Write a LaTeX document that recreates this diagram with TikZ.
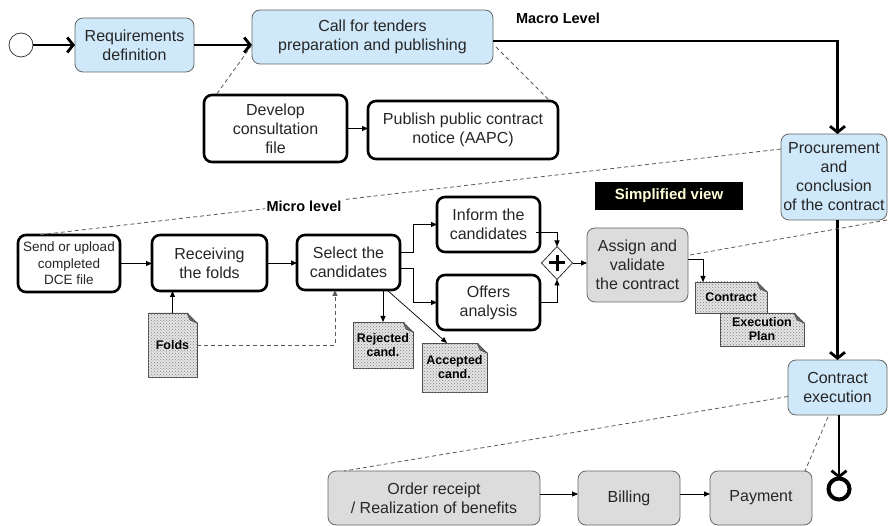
\documentclass[tikz,border=0pt]{standalone}
\usepackage{fontspec}
\setmainfont{Liberation Sans}
\usetikzlibrary{arrows.meta,calc,shapes.geometric,patterns}
\definecolor{blueF}{HTML}{CFE9FA}
\definecolor{grayF}{HTML}{DCDCDC}
\definecolor{creamT}{HTML}{FFFFD8}
\newcommand\docfold[1]{%
  \fill[white] ($(#1.north east)+(-10,-1)$) -- ($(#1.north east)+(1,-1)$) -- ($(#1.north east)+(1,10)$) -- cycle;
  \filldraw[draw=black!70, fill=black!60, line width=0.6pt, line join=round]
    ($(#1.north east)+(-10,0)$) -- ($(#1.north east)+(0,10)$) -- ($(#1.north east)+(-7,7)$) -- cycle;
}
\begin{document}
\begin{tikzpicture}[x=1pt,y=-1pt,
  every node/.style={font=\fontsize{16}{19}\selectfont, text=black!85, align=center, inner sep=0pt, outer sep=0pt},
  bluebox/.style={draw=black!60, line width=0.8pt, fill=blueF, rounded corners=8pt},
  graybox/.style={draw=black!60, line width=0.8pt, fill=grayF, rounded corners=8pt},
  taskbox/.style={draw=black, line width=2.6pt, fill=white, rounded corners=8pt},
  docbox/.style={draw=black!70, line width=0.6pt, fill=black!10,
    postaction={pattern=crosshatch dots, pattern color=black!50},
    font=\fontsize{12.5}{14}\selectfont\bfseries, text=black},
  flow/.style={line width=2.8pt, -{Straight Barb[length=6pt,width=15pt]}},
  msg/.style={line width=0.9pt, -{Triangle[length=6pt,width=5pt]}},
  assoc/.style={dash pattern=on 4pt off 3pt, draw=black!65, line width=0.8pt},
  lvl/.style={font=\fontsize{14.5}{17}\selectfont\bfseries, text=black},
]
\useasboundingbox (0,0) rectangle (888,526);

% ---------- macro level ----------
\node[circle, draw=black!75, line width=0.8pt, fill=white, minimum size=24pt] (start) at (21,45) {};
\node[bluebox, minimum width=119pt, minimum height=54pt] (req) at (134.5,45) {Requirements\\definition};
\node[bluebox, minimum width=241pt, minimum height=54pt] (call) at (372.5,37) {Call for tenders\\preparation and publishing};
\node[bluebox, minimum width=106pt, minimum height=86pt] (proc) at (834,177) {Procurement\\and\\conclusion\\of the contract};
\node[bluebox, minimum width=99pt, minimum height=55pt] (cexec) at (837.5,387.5) {Contract\\execution};
\node[circle, draw=black, line width=4pt, fill=white, minimum size=21pt] (endc) at (839,489) {};
\node[lvl] (macro) at (558,18) {Macro Level};

\draw[flow] (start.east) -- (req.west);
\draw[flow] (req.east) -- (req.east -| call.west);
\draw[flow] ($(call.east)+(0,4)$) -| (proc.north -| cexec.north);
\draw[flow] (proc.south -| cexec.north) -- (cexec.north);
\draw[flow] (cexec.south -| endc.north) -- (endc.north);

% ---------- call for tenders detail ----------
\node[taskbox, minimum width=143pt, minimum height=67pt] (dev) at (275.5,128.5) {Develop\\consultation\\file};
\node[taskbox, minimum width=190pt, minimum height=58pt] (pub) at (463,130) {Publish public contract\\notice (AAPC)};
\draw[msg] (dev.east) -- (dev.east -| pub.west);
\draw[assoc] ($(call.west)+(0,8)$) -- ($(dev.north west)+(12,0)$);
\draw[assoc] ($(call.east)+(3,10)$) -- ($(pub.north east)+(-8,0)$);

% ---------- micro level ----------
\node[taskbox, minimum width=102pt, minimum height=57pt, font=\fontsize{13.5}{16.5}\selectfont] (send) at (69,263.5) {Send or upload\\completed\\DCE file};
\node[taskbox, minimum width=115pt, minimum height=56pt] (recv) at (209.5,263) {Receiving\\the folds};
\node[taskbox, minimum width=103pt, minimum height=55pt] (select) at (348.5,262.5) {Select the\\candidates};
\node[taskbox, minimum width=103pt, minimum height=55pt] (inform) at (488.5,224.5) {Inform the\\candidates};
\node[taskbox, minimum width=103pt, minimum height=55pt] (offers) at (488.5,302.5) {Offers\\analysis};
\node[diamond, draw=black!80, line width=0.8pt, fill=white, minimum width=31pt, minimum height=33pt] (gw) at (557,263) {};
\draw[line width=3pt] ($(gw.center)+(-8,0)$) -- ($(gw.center)+(8,0)$);
\draw[line width=3pt] ($(gw.center)+(0,-8)$) -- ($(gw.center)+(0,8)$);
\node[graybox, minimum width=101pt, minimum height=74pt] (assign) at (637.5,265) {Assign and\\validate\\the contract};
\node[fill=black, minimum width=148pt, minimum height=28pt, font=\fontsize{15}{18}\selectfont\bfseries, text=creamT] (simp) at (669,196) {Simplified view};

% documents
\node[docbox, minimum width=49pt, minimum height=64pt] (folds) at (172.5,345) {\raisebox{-7pt}{Folds}};
\docfold{folds}
\node[docbox, minimum width=60pt, minimum height=46pt] (rej) at (383,345) {Rejected\\cand.};
\docfold{rej}
\node[docbox, minimum width=65pt, minimum height=49pt] (acc) at (454.5,367.5) {Accepted\\cand.};
\docfold{acc}
\node[docbox, minimum width=72pt, minimum height=31pt] (contract) at (731,297.5) {Contract};
\docfold{contract}
\node[docbox, minimum width=84pt, minimum height=33pt] (plan) at (762,329.5) {Execution\\Plan};
\docfold{plan}

% micro connectors
\draw[msg] (send.east) -- (send.east -| recv.west);
\draw[msg] (recv.east) -- (recv.east -| select.west);
\draw[msg] (folds.north) -- (folds.north |- recv.south);
\draw[assoc, -{Triangle[length=6pt,width=5pt]}] (folds.east) -| ($(select.south west)+(38,0)$);
\draw[msg] ($(select.east)+(0,-10)$) -- ++(13,0) |- (inform.west);
\draw[msg] ($(select.east)+(0,6)$) -- ++(13,0) |- (offers.west);
\draw[msg] ($(inform.east)+(-4,8)$) -| (gw.north);
\draw[msg] (offers.east) -| (gw.south);
\draw[msg] (gw.east) -- (gw.east -| assign.west);
\draw[msg] (rej.north |- select.south) -- (rej.north);
\draw[msg, line width=0.7pt] ($(select.south east)+(-13,0)$) -- ($(acc.north west)+(25,0)$);
\draw[msg] ($(assign.north east)+(0,31)$) -| ($(contract.north west)+(8,0)$);

% association from macro to micro
\draw[assoc] ($(proc.north west)+(0,15)$) -- ($(send.north west)+(20,0)$);
\node[lvl, fill=white, inner xsep=2pt, inner ysep=3pt] (micro) at (304,206) {Micro level};
\draw[assoc] (proc.south east) -- ($(assign.north east)+(2,27)$);

% ---------- execution detail ----------
\node[graybox, minimum width=212pt, minimum height=54pt] (order) at (434,498) {Order receipt\\/ Realization of benefits};
\node[graybox, minimum width=102pt, minimum height=54pt] (billing) at (629,498) {Billing};
\node[graybox, minimum width=102pt, minimum height=54pt] (payment) at (761,498) {Payment};
\draw[msg] ($(order.east)+(0,-4)$) -- ($(order.east -| billing.west)+(0,-4)$);
\draw[msg] ($(billing.east)+(0,-4)$) -- ($(billing.east -| payment.west)+(0,-4)$);
\draw[assoc] ($(cexec.west)+(0,9)$) -- ($(order.north west)+(16,0)$);
\draw[assoc] ($(cexec.south west)+(40,2)$) -- ($(payment.north east)+(-7,0)$);
\end{tikzpicture}
\end{document}
